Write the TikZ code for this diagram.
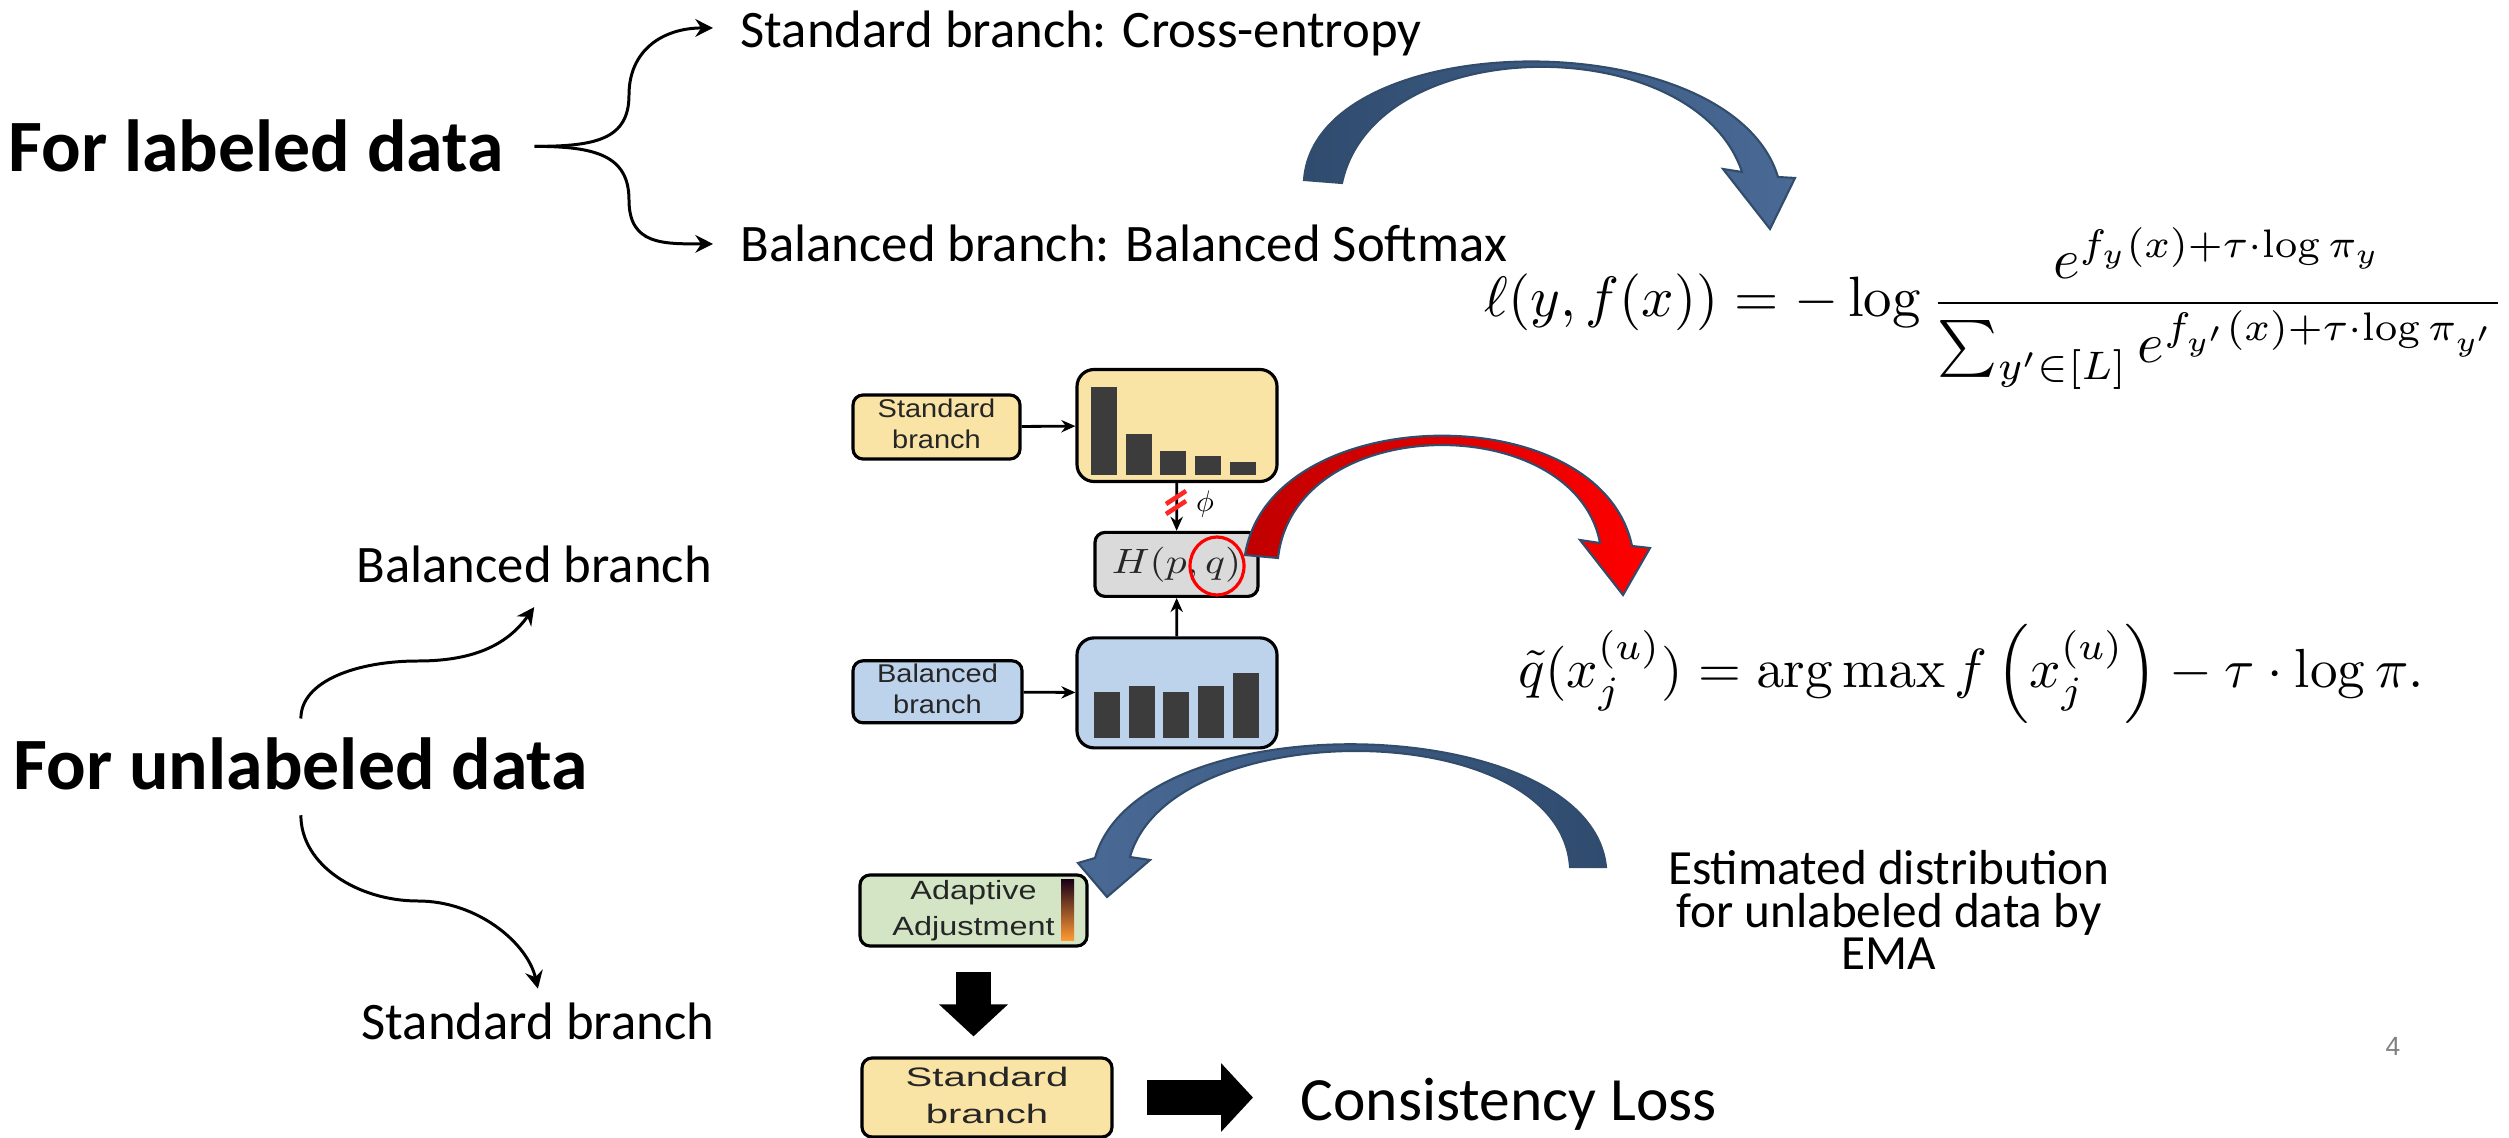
\documentclass[tikz,border=0pt]{standalone}
\usepackage[no-math]{fontspec}
\setmainfont{Carlito}
\newfontfamily\figfont{Liberation Sans}
\usepackage{graphicx}
\usetikzlibrary{arrows.meta}

\definecolor{stdyellow}{RGB}{249,227,165}
\definecolor{balblue}{RGB}{189,211,236}
\definecolor{hgray}{RGB}{218,218,218}
\definecolor{adaptgreen}{RGB}{211,229,196}
\definecolor{bardark}{RGB}{60,60,60}
\definecolor{arrowdark}{RGB}{47,75,110}
\definecolor{arrowlight}{RGB}{74,106,150}
\definecolor{arrowedge}{RGB}{50,76,108}
\definecolor{redark}{RGB}{192,0,0}
\definecolor{pagegray}{RGB}{128,128,128}

% stretched multi-line text of the pasted figure
\newcommand{\hstretch}[2]{\scalebox{#1}[1]{\begin{tabular}{@{}c@{}}#2\end{tabular}}}

\tikzset{
  titletext/.style={font=\fontsize{21}{25}\selectfont\bfseries, inner sep=0, anchor=base west},
  branchtext/.style={font=\fontsize{15}{18}\selectfont, inner sep=0, anchor=base west},
  thinarrow/.style={line width=0.85pt, -{Stealth[length=5pt,width=5pt]}},
  smallbox/.style={draw, line width=0.9pt, rounded corners=0.1cm, inner sep=0,
    font=\figfont\fontsize{7.3}{8.8}\selectfont, text=black!85},
  histbox/.style={draw, line width=0.9pt, rounded corners=0.17cm, inner sep=0,
    minimum width=2cm},
  figarrow/.style={line width=0.8pt, -{Stealth[length=4pt,width=3.5pt]}},
  blockarrow/.style={line width=0.35cm, -{Triangle[length=0.32cm 0 0,width=0.67cm 0 0]}},
  bendarrow/.style={draw=arrowedge, line width=0.6pt}
}

\begin{document}
\begin{tikzpicture}[x=1cm, y=-1cm]
% Canvas
\fill[white] (0,0) rectangle (25.09,11.38);
\useasboundingbox (0,0) rectangle (25.09,11.38);

% Labeled data with its two branches
\node[titletext] (labeled) at (0.08,1.72) {For labeled data};
\node[branchtext] (stdce) at (7.40,0.48) {Standard branch: Cross-entropy};
\node[branchtext] (balsoft) at (7.40,2.62) {Balanced branch: Balanced Softmax};
\draw[thinarrow] ([xshift=3mm]labeled.east) .. controls +(0.6,0) and +(0,0.45) .. (6.29,0.95)
  .. controls +(0,-0.45) and +(-0.5,0) .. ([xshift=-2.7mm,yshift=0.6mm]stdce.west);
\draw[thinarrow] ([xshift=3mm]labeled.east) .. controls +(0.6,0) and +(0,-0.45) .. (6.29,2.00)
  .. controls +(0,0.45) and +(-0.5,0) .. ([xshift=-2.7mm]balsoft.west);

% Unlabeled data with its two branches
\node[titletext] (unlabeled) at (0.13,7.89) {For unlabeled data};
\node[branchtext] (balu) at (3.56,5.82) {Balanced branch};
\node[branchtext] (stdu) at (3.61,10.39) {Standard branch};
\draw[thinarrow] ([yshift=1.8mm]unlabeled.north) .. controls +(0,-0.38) and +(-0.6,0) .. (4.18,6.61)
  .. controls +(0.6,0) and +(-0.25,0.35) .. ([yshift=-2.4mm]balu.south);
\draw[thinarrow] ([yshift=-2.5mm]unlabeled.south) .. controls +(0,0.5) and +(-0.6,0) .. (4.18,9.01)
  .. controls +(0.6,0) and +(-0.1,-0.45) .. ([yshift=1.3mm]stdu.north);

% Pasted figure: branches and histograms
\node[smallbox, fill=stdyellow, minimum width=1.67cm, minimum height=0.64cm] (stdin) at (9.365,4.27)
  {\hstretch{1.13}{Standard\\branch}};
\node[smallbox, fill=balblue, minimum width=1.69cm, minimum height=0.62cm] (balin) at (9.375,6.918)
  {\hstretch{1.13}{Balanced\\branch}};
\node[histbox, fill=stdyellow, minimum height=1.12cm] (stdhist) at (11.77,4.255) {};
\node[histbox, fill=balblue, minimum height=1.10cm] (balhist) at (11.77,6.929) {};
\foreach \bx/\bt in {10.91/3.87, 11.26/4.345, 11.60/4.51, 11.95/4.565, 12.30/4.625}
  \fill[bardark] (\bx,4.75) rectangle (\bx+0.26,\bt);
\foreach \bx/\bt in {10.94/6.92, 11.29/6.86, 11.63/6.92, 11.98/6.86, 12.33/6.73}
  \fill[bardark] (\bx,7.38) rectangle (\bx+0.26,\bt);
\node[smallbox, fill=hgray, minimum width=1.63cm, minimum height=0.64cm, font=\fontsize{9.7}{11}\selectfont] (hpq)
  at (11.765,5.644) {\scalebox{1.18}[1]{$H(p,q)$}};
\draw[figarrow] (stdin) -- (stdhist);
\draw[figarrow] (balin) -- (balhist);
\draw[figarrow] (stdhist) -- (hpq);
\draw[figarrow] (balhist) -- (hpq);
% stop-gradient marks and highlight
\draw[red!85, line width=1.3pt] (11.66,5.04) -- (11.86,4.91);
\draw[red!85, line width=1.3pt] (11.66,5.14) -- (11.86,5.01);
\node[inner sep=0] (phi) at (12.05,5.04) {\scalebox{0.85}{$\phi$}};
\draw[red, line width=0.9pt] (12.17,5.66) ellipse [x radius=0.27, y radius=0.29];

% Pasted figure: adjustment and consistency
\node[smallbox, fill=adaptgreen, minimum width=2.27cm, minimum height=0.71cm, font=\figfont\fontsize{7.5}{10.1}\selectfont]
  (adapt) at (9.735,9.105) {\hstretch{1.23}{Adaptive\\Adjustment}};
\shade[top color=black!80!violet, middle color=purple!80!black, bottom color=orange!80] (10.61,8.79) rectangle (10.74,9.40);
\node[smallbox, fill=stdyellow, minimum width=2.50cm, minimum height=0.79cm, font=\figfont\fontsize{7.6}{10.4}\selectfont]
  (stdb) at (9.87,10.975) {\hstretch{1.5}{Standard\\branch}};
\node[font=\fontsize{17.5}{21}\selectfont, inner sep=0, anchor=base west] (cons) at (13.00,11.20) {Consistency Loss};
\draw[blockarrow, shorten <=0.24cm, shorten >=0.20cm] (adapt.south) -- (adapt.south |- stdb.north);
\draw[blockarrow, shorten <=0.33cm, shorten >=0.47cm] (stdb.east) -- (stdb.east -| cons.west);

% Formulas
\node[anchor=base west, inner sep=0] (softmax) at (14.84,3.17) {\resizebox{10.2cm}{!}{$\displaystyle
  \ell(y,f(x)) = -\log\frac{e^{f_y(x)+\tau\cdot\log\pi_y}}{\sum_{y'\in[L]}e^{f_{y'}(x)+\tau\cdot\log\pi_{y'}}}$}};
\node[anchor=base west, inner sep=0] (pseudo) at (15.18,6.88) {\resizebox{9.05cm}{!}{$
  \tilde{q}(x_j^{(u)}) = \arg\max f\left(x_j^{(u)}\right) - \tau\cdot\log\pi.$}};
\node[font=\fontsize{14}{12}\selectfont, align=center, inner sep=0, anchor=north] (ema)
  at (18.89,8.50) {Estimated distribution\\for unlabeled data by\\EMA};

% Curved block arrows (thin at the top)
\fill[bendarrow, left color=arrowdark, right color=arrowlight]
  (13.04,1.80) .. controls (13.15,0.25) and (17.30,0.20) .. (17.78,1.77) -- (17.95,1.78) -- (17.70,2.29)
  -- (17.23,1.69) -- (17.42,1.72) .. controls (16.95,0.30) and (13.75,0.30) .. (13.42,1.83) -- cycle;
\fill[bendarrow, left color=redark, right color=red]
  (12.45,5.55) .. controls (12.70,4.00) and (16.00,3.95) .. (16.32,5.46) -- (16.50,5.48) -- (16.23,5.95)
  -- (15.80,5.40) -- (16.00,5.43) .. controls (15.75,4.10) and (12.95,4.10) .. (12.78,5.58) -- cycle;
\fill[bendarrow, left color=arrowlight, right color=arrowdark]
  (16.06,8.67) .. controls (15.90,7.10) and (11.40,7.00) .. (10.95,8.58) -- (10.78,8.63) -- (11.07,8.97)
  -- (11.50,8.60) -- (11.30,8.57) .. controls (11.70,7.14) and (15.60,7.14) .. (15.70,8.67) -- cycle;

% Page number
\node[font=\figfont\fontsize{7.5}{9}\selectfont, text=pagegray, inner sep=0, anchor=base west] (pagenum)
  at (23.85,10.55) {4};
\end{tikzpicture}
\end{document}
